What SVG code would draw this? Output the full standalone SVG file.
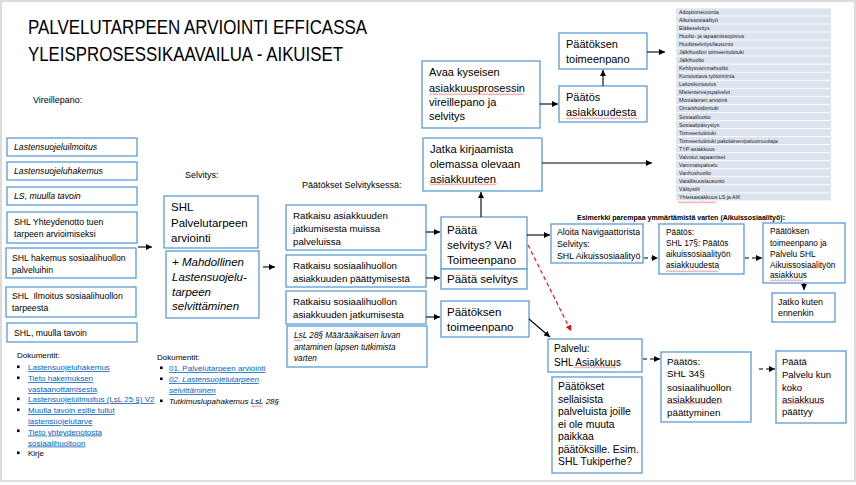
<svg xmlns="http://www.w3.org/2000/svg" width="856" height="485" viewBox="0 0 856 485">
<style>
text{font-family:"Liberation Sans",Arial,sans-serif;fill:#000}
.box{fill:#fff;stroke:#5b9bd5;stroke-width:1.3}
.c{stroke:#000;stroke-width:1.1;fill:none}
.d{stroke:#000;stroke-width:1.1;fill:none;stroke-dasharray:4 3}
.r{stroke:#ff0000;stroke-width:1.1;fill:none;stroke-dasharray:4 3}
.i{font-style:italic}
.lnk{fill:#0563c1;text-decoration:underline}
.row{fill:#dce4ef}
.sq{fill:url(#wave)}
</style>
<defs>
<marker id="ah" markerUnits="userSpaceOnUse" markerWidth="7" markerHeight="6" refX="6" refY="3" orient="auto"><path d="M0,0 L6,3 L0,6 z" fill="#000"/></marker>
<marker id="ahr" markerUnits="userSpaceOnUse" markerWidth="7" markerHeight="6" refX="6" refY="3" orient="auto"><path d="M0,0 L6,3 L0,6 z" fill="#ff0000"/></marker>
<pattern id="wave" x="0" y="0" width="3" height="3" patternUnits="userSpaceOnUse"><path d="M0 2.4 L1.5 0.6 L3 2.4" stroke="#ff3030" stroke-width="0.55" fill="none"/></pattern>
</defs>
<rect x="0" y="0" width="856" height="485" fill="#fff"/>
<rect x="1" y="1" width="854" height="480" fill="none" stroke="#c6c6c6" stroke-width="1.2"/>

<g id="title">
<text x="28" y="34" font-size="21" textLength="339" lengthAdjust="spacingAndGlyphs">PALVELUTARPEEN ARVIOINTI EFFICASSA</text>
<text x="28" y="61" font-size="21" textLength="315" lengthAdjust="spacingAndGlyphs">YLEISPROSESSIKAAVAILUA - AIKUISET</text>
</g>

<g id="labels" font-size="9">
<text x="33" y="103">Vireillepano:</text>
<text x="185" y="178">Selvitys:</text>
<text x="302" y="188">Päätökset Selvityksessä:</text>
<text x="577" y="219.5" font-weight="bold" font-size="7.4" textLength="208" lengthAdjust="spacingAndGlyphs">Esimerkki parempaa ymmärtämistä varten (Aikuissosiaalityö):</text>
</g>

<g id="palvelulista" font-size="5.3">
<rect class="row" x="676" y="8.3" width="155" height="7.2"/>
<rect class="row" x="676" y="16.3" width="155" height="7.2"/>
<rect class="row" x="676" y="24.4" width="155" height="7.2"/>
<rect class="row" x="676" y="32.4" width="155" height="7.2"/>
<rect class="row" x="676" y="40.5" width="155" height="7.2"/>
<rect class="row" x="676" y="48.5" width="155" height="7.2"/>
<rect class="row" x="676" y="56.5" width="155" height="7.2"/>
<rect class="row" x="676" y="64.6" width="155" height="7.2"/>
<rect class="row" x="676" y="72.6" width="155" height="7.2"/>
<rect class="row" x="676" y="80.7" width="155" height="7.2"/>
<rect class="row" x="676" y="88.7" width="155" height="7.2"/>
<rect class="row" x="676" y="96.7" width="155" height="7.2"/>
<rect class="row" x="676" y="104.8" width="155" height="7.2"/>
<rect class="row" x="676" y="112.8" width="155" height="7.2"/>
<rect class="row" x="676" y="120.9" width="155" height="7.2"/>
<rect class="row" x="676" y="128.9" width="155" height="7.2"/>
<rect class="row" x="676" y="136.9" width="155" height="7.2"/>
<rect class="row" x="676" y="145.0" width="155" height="7.2"/>
<rect class="row" x="676" y="153.0" width="155" height="7.2"/>
<rect class="row" x="676" y="161.1" width="155" height="7.2"/>
<rect class="row" x="676" y="169.1" width="155" height="7.2"/>
<rect class="row" x="676" y="177.1" width="155" height="7.2"/>
<rect class="row" x="676" y="185.2" width="155" height="7.2"/>
<rect class="row" x="676" y="193.2" width="155" height="7.2"/>
<text x="679" y="14" style="fill:#222">
<tspan x="679">Adoptioneuvonta</tspan>
<tspan x="679" dy="8.04">Aikuissosiaalityö</tspan>
<tspan x="679" dy="8.04">Eläkeselvitys</tspan>
<tspan x="679" dy="8.04">Huolto- ja tapaamissopimus</tspan>
<tspan x="679" dy="8.04">Huoltoselvitys/lausunto</tspan>
<tspan x="679" dy="8.04">Jälkihuollon toimeentulotuki</tspan>
<tspan x="679" dy="8.04">Jälkihuolto</tspan>
<tspan x="679" dy="8.04">Kehitysvammahuolto</tspan>
<tspan x="679" dy="8.04">Kuntouttava työtoiminta</tspan>
<tspan x="679" dy="8.04">Laitoskuntoutus</tspan>
<tspan x="679" dy="8.04">Mielenterveyspalvelut</tspan>
<tspan x="679" dy="8.04">Monialainen arviointi</tspan>
<tspan x="679" dy="8.04">Omaishoidontuki</tspan>
<tspan x="679" dy="8.04">Sosiaaliluotto</tspan>
<tspan x="679" dy="8.04">Sosiaalipäivystys</tspan>
<tspan x="679" dy="8.04">Toimeentulotuki</tspan>
<tspan x="679" dy="8.04">Toimeentulotuki pakolainen/paluumuuttaja</tspan>
<tspan x="679" dy="8.04">TYP-asiakkuus</tspan>
<tspan x="679" dy="8.04">Valvotut tapaamiset</tspan>
<tspan x="679" dy="8.04">Vammaispalvelu</tspan>
<tspan x="679" dy="8.04">Vanhushuolto</tspan>
<tspan x="679" dy="8.04">Varallisuuslausunto</tspan>
<tspan x="679" dy="8.04">Välitystili</tspan>
<tspan x="679" dy="8.04">Yhteisasiakkuus LS ja AIK</tspan>
</text>
</g>

<g id="vireillepano" font-size="8.7">
<g id="n-lsilmoitus"><rect class="box" x="7" y="138" width="130" height="18"/><text class="i" x="14" y="150">Lastensuojeluilmoitus</text></g>
<g id="n-lshakemus"><rect class="box" x="7" y="162" width="130" height="18"/><text class="i" x="14" y="174">Lastensuojeluhakemus</text></g>
<g id="n-lsmuulla"><rect class="box" x="7" y="187" width="130" height="18"/><text class="i" x="14" y="199">LS, muulla tavoin</text></g>
<g id="n-shlyhteydenotto"><rect class="box" x="7" y="212" width="130" height="31"/><text x="14" y="225">SHL Yhteydenotto tuen</text><text x="14" y="236.5">tarpeen arvioimiseksi</text></g>
<g id="n-shlhakemus"><rect class="box" x="6" y="248" width="130" height="30"/><text x="12" y="261">SHL hakemus sosiaalihuollon</text><text x="12" y="272.5">palveluihin</text></g>
<g id="n-shlilmoitus"><rect class="box" x="6" y="287" width="130" height="30"/><text x="12" y="299" xml:space="preserve">SHL  Ilmoitus sosiaalihuollon</text><text x="12" y="311">tarpeesta</text></g>
<g id="n-shlmuulla"><rect class="box" x="7" y="323" width="130" height="19"/><text x="14" y="336">SHL, muulla tavoin</text></g>
</g>

<g id="selvitys" font-size="11.5">
<g id="n-palvelutarve"><rect class="box" x="164" y="196" width="94" height="52"/><text x="171" y="211">SHL</text><text x="171" y="226.5">Palvelutarpeen</text><text x="171" y="242">arviointi</text></g>
<g id="n-lstarve"><rect class="box" x="166" y="251" width="93" height="67"/><text class="i" x="172" y="266">+ Mahdollinen</text><text class="i" x="172" y="280.5">Lastensuojelu-</text><text class="i" x="172" y="295.5">tarpeen</text><text class="i" x="172" y="310">selvittäminen</text></g>
</g>

<g id="ratkaisut" font-size="9.7">
<g id="n-ratkaisu1"><rect class="box" x="286" y="205" width="140" height="45"/><text x="293" y="218.5">Ratkaisu asiakkuuden</text><text x="293" y="231.5">jatkumisesta muissa</text><text x="293" y="244.5">palveluissa</text></g>
<g id="n-ratkaisu2"><rect class="box" x="286" y="255" width="140" height="32"/><text x="293" y="268.5">Ratkaisu sosiaalihuollon</text><text x="293" y="281.5">asiakkuuden päättymisestä</text></g>
<g id="n-ratkaisu3"><rect class="box" x="286" y="291" width="140" height="33"/><text x="293" y="304.5">Ratkaisu sosiaalihuollon</text><text x="293" y="317.5">asiakkuuden jatkumisesta</text></g>
<g id="n-lsl28" font-size="8.2"><rect class="box" x="287" y="326" width="140" height="41"/><text class="i" x="294" y="338">LsL 28§ Määräaikaisen luvan</text><text class="i" x="294" y="349.5">antaminen lapsen tutkimista</text><text class="i" x="294" y="361">varten</text></g>
</g>

<g id="paatokset" font-size="11.5">
<g id="n-paata"><rect class="box" x="441" y="217" width="86" height="52"/><text x="447" y="234">Päätä</text><text x="447" y="249">selvitys? VAI</text><text x="447" y="263.5">Toimeenpano</text></g>
<g id="n-paataselvitys"><rect class="box" x="441" y="269" width="86" height="20"/><text x="447" y="283">Päätä selvitys</text></g>
<g id="n-toimeenpano"><rect class="box" x="441" y="301" width="88" height="36"/><text x="447" y="316">Päätöksen</text><text x="447" y="331">toimeenpano</text></g>
<g id="n-jatka" font-size="11.2"><rect class="box" x="423" y="138" width="119" height="53"/><text x="430" y="153">Jatka kirjaamista</text><text x="430" y="168">olemassa olevaan</text><text x="430" y="182.5">asiakkuuteen</text></g>
<g id="n-avaa" font-size="11"><rect class="box" x="422" y="61" width="118" height="67"/><text x="429" y="76">Avaa kyseisen</text><text x="429" y="91.5">asiakkuusprosessin</text><text x="429" y="106">vireillepano ja</text><text x="429" y="120">selvitys</text></g>
<g id="n-paatosasiakkuus" font-size="11"><rect class="box" x="559" y="86" width="88" height="36"/><text x="566" y="101">Päätös</text><text x="566" y="116">asiakkuudesta</text></g>
<g id="n-toimeenpano2" font-size="11"><rect class="box" x="559" y="33" width="88" height="36"/><text x="566" y="48">Päätöksen</text><text x="566" y="63">toimeenpano</text></g>
</g>

<g id="esimerkki">
<g id="n-aloita" font-size="8.8"><rect class="box" x="551" y="224" width="92" height="39"/><text x="557" y="235">Aloita Navigaattorista</text><text x="557" y="247">Selvitys:</text><text x="557" y="258.5">SHL Aikuissosiaalityö</text></g>
<g id="n-shl17" font-size="8.3"><rect class="box" x="659" y="224" width="85" height="50"/><text x="666" y="235">Päätös:</text><text x="666" y="246">SHL 17§: Päätös</text><text x="666" y="257">aikuissosiaalityön</text><text x="666" y="268">asiakkuudesta</text></g>
<g id="n-aikuistoimeenpano" font-size="8.3"><rect class="box" x="763" y="223" width="82" height="60"/><text x="770" y="234">Päätöksen</text><text x="770" y="245.5">toimeenpano ja</text><text x="770" y="256.5">Palvelu SHL</text><text x="770" y="267.5">Aikuissosiaalityön</text><text x="770" y="278">asiakkuus</text></g>
<g id="n-jatko" font-size="8.8"><rect class="box" x="772" y="293" width="63" height="29"/><text x="778" y="305">Jatko kuten</text><text x="778" y="316">ennenkin</text></g>
</g>

<g id="palvelu">
<g id="n-palvelu" font-size="10"><rect class="box" x="548" y="339" width="94" height="33"/><text x="554" y="351.5">Palvelu:</text><text x="554" y="365.5">SHL Asiakkuus</text></g>
<g id="n-paatoksetmuut" font-size="10.4"><rect class="box" x="552" y="377" width="90" height="96"/><text x="558" y="390">Päätökset</text><text x="558" y="402.5">sellaisista</text><text x="558" y="415">palveluista joille</text><text x="558" y="427.5">ei ole muuta</text><text x="558" y="440">paikkaa</text><text x="558" y="452.5">päätöksille. Esim.</text><text x="558" y="465">SHL Tukiperhe?</text></g>
<g id="n-shl34" font-size="9.8"><rect class="box" x="661" y="352" width="90" height="70"/><text x="667" y="364.5">Päätös:</text><text x="667" y="377">SHL 34§</text><text x="667" y="390.5">sosiaalihuollon</text><text x="667" y="402.5">asiakkuuden</text><text x="667" y="415.5">päättyminen</text></g>
<g id="n-paatapalvelu" font-size="9.5"><rect class="box" x="776" y="351" width="70" height="72"/><text x="782" y="364.5">Päätä</text><text x="782" y="377.5">Palvelu kun</text><text x="782" y="390.5">koko</text><text x="782" y="402.5">asiakkuus</text><text x="782" y="414.5">päättyy</text></g>
</g>

<g id="dokumentit1" font-size="8">
<text x="17" y="358">Dokumentit:</text>
<rect x="17" y="365.5" width="2.6" height="2.6"/>
<rect x="17" y="376.5" width="2.6" height="2.6"/>
<rect x="17" y="397.5" width="2.6" height="2.6"/>
<rect x="17" y="408.5" width="2.6" height="2.6"/>
<rect x="17" y="429.5" width="2.6" height="2.6"/>
<rect x="17" y="451.5" width="2.6" height="2.6"/>
<text class="lnk" x="28" y="370">Lastensuojeluhakemus</text>
<text class="lnk" x="28" y="381">Tieto hakemuksen</text>
<text class="lnk" x="28" y="392">vastaanottamisesta</text>
<text class="lnk" x="28" y="402">Lastensuojeluilmoitus (LsL 25 §) V2</text>
<text class="lnk" x="28" y="413">Muulla tavoin esille tullut</text>
<text class="lnk" x="28" y="424">lastensuojelutarve</text>
<text class="lnk" x="28" y="434.5">Tieto yhteydenotosta</text>
<text class="lnk" x="28" y="445.5">sosiaalihuoltoon</text>
<text x="28" y="456">Kirje</text>
</g>

<g id="dokumentit2" font-size="8">
<text x="157" y="360">Dokumentit:</text>
<rect x="160" y="366.5" width="2.6" height="2.6"/>
<rect x="160" y="377.5" width="2.6" height="2.6"/>
<rect x="160" y="399.5" width="2.6" height="2.6"/>
<text class="lnk" x="169" y="371">01. Palvelutarpeen arviointi</text>
<text class="lnk i" x="169" y="382">02. Lastensuojelutarpeen</text>
<text class="lnk i" x="169" y="393">selvittäminen</text>
<text class="i" x="169" y="404">Tutkimuslupahakemus LsL 28§</text>
</g>

<g id="spellcheck">
<rect class="sq" x="429" y="93" width="95" height="3"/>
<rect class="sq" x="566" y="117" width="71" height="3"/>
<rect class="sq" x="430" y="183" width="67" height="3"/>
<rect class="sq" x="294" y="339" width="8" height="3"/>
<rect class="sq" x="666" y="270" width="52" height="3"/>
<rect class="sq" x="770" y="279" width="33" height="3"/>
<rect class="sq" x="573" y="366" width="43" height="3"/>
<rect class="sq" x="667" y="402" width="53" height="3"/>
<rect class="sq" x="782" y="402" width="42" height="3"/>
<rect class="sq" x="110" y="402" width="12" height="3"/>
<rect class="sq" x="251" y="405" width="12" height="3"/>
<rect class="sq" x="678" y="201" width="38" height="3"/>
</g>

<g id="connectors">
<line class="c" x1="138" y1="247" x2="152" y2="247" marker-end="url(#ah)"/>
<line class="c" x1="263" y1="267" x2="275" y2="267" marker-end="url(#ah)"/>
<line class="c" x1="426" y1="232" x2="440" y2="232" marker-end="url(#ah)"/>
<line class="c" x1="426" y1="278" x2="440" y2="278" marker-end="url(#ah)"/>
<line class="c" x1="426" y1="317" x2="440" y2="317" marker-end="url(#ah)"/>
<line class="c" x1="481" y1="217" x2="481" y2="192" marker-end="url(#ah)"/>
<line class="c" x1="542" y1="163" x2="652" y2="163" marker-end="url(#ah)"/>
<line class="c" x1="540" y1="104" x2="558" y2="104" marker-end="url(#ah)"/>
<line class="c" x1="603" y1="86" x2="603" y2="70" marker-end="url(#ah)"/>
<line class="c" x1="647" y1="52" x2="665" y2="52" marker-end="url(#ah)"/>
<line class="c" x1="527" y1="235" x2="550" y2="235" marker-end="url(#ah)"/>
<line class="c" x1="529" y1="319" x2="550" y2="337" marker-end="url(#ah)"/>
<line class="r" x1="528" y1="245" x2="571" y2="331" marker-end="url(#ahr)"/>
<line class="d" x1="644" y1="258" x2="658" y2="258" marker-end="url(#ah)"/>
<line class="d" x1="745" y1="258" x2="762" y2="258" marker-end="url(#ah)"/>
<line class="c" x1="804" y1="283" x2="804" y2="290" marker-end="url(#ah)"/>
<line class="d" x1="643" y1="359" x2="660" y2="359" marker-end="url(#ah)"/>
<line class="d" x1="759" y1="369" x2="775" y2="369" marker-end="url(#ah)"/>
</g>
</svg>
